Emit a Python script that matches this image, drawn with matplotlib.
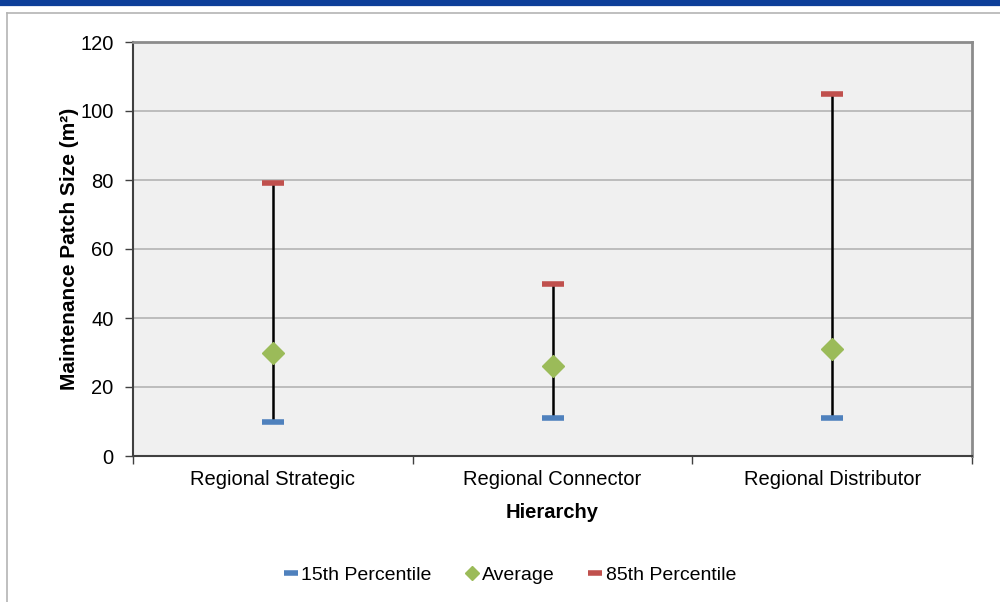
import matplotlib
matplotlib.use("Agg")
import matplotlib.pyplot as plt
from matplotlib.lines import Line2D

categories = ["Regional Strategic", "Regional Connector", "Regional Distributor"]
p15 = [10, 11, 11]
avg = [30, 26, 31]
p85 = [79, 50, 105]
yticks = [0, 20, 40, 60, 80, 100, 120]

BLUE = "#4f81bd"
GREEN = "#9bbb59"
RED = "#c0504d"
FS = 14.5

plt.rcParams["font.family"] = ["Liberation Sans", "DejaVu Sans"]

fig = plt.figure(figsize=(10, 6.02), dpi=100)
fig.patch.set_facecolor("white")

# page decoration: blue band and grey frame
fig.add_artist(Line2D([0, 1], [1 - 3 / 602, 1 - 3 / 602], color="#0d3f99", lw=4.5))
fig.add_artist(Line2D([7 / 1000, 1], [1 - 13 / 602, 1 - 13 / 602], color="#b4b4b4", lw=1.2))
fig.add_artist(Line2D([7 / 1000, 7 / 1000], [0, 1 - 13 / 602], color="#b4b4b4", lw=1.2))

ax = fig.add_axes([133 / 1000, 1 - 456 / 602, 839 / 1000, 414 / 602])
ax.set_facecolor("#f0f0f0")

x = list(range(len(categories)))
ax.vlines(x, p15, p85, color="black", lw=1.8, zorder=2)
ax.plot(x, p15, ls="none", marker="_", ms=16, mew=4, color=BLUE, zorder=3, label="15th Percentile")
ax.plot(x, avg, ls="none", marker="D", ms=11, color=GREEN, zorder=4, label="Average")
ax.plot(x, p85, ls="none", marker="_", ms=16, mew=4, color=RED, zorder=3, label="85th Percentile")

ax.set_xlim(-0.5, len(categories) - 0.5)
ax.set_ylim(0, 120)
ax.set_yticks(yticks)
ax.set_yticklabels([str(v) for v in yticks], fontsize=FS)
ax.yaxis.grid(True, color="#b3b3b3", lw=1.2)
ax.set_axisbelow(True)

ax.set_xticks([i - 0.5 for i in range(len(categories) + 1)])
ax.set_xticklabels([])
ax.set_xticks(x, minor=True)
ax.set_xticklabels(categories, minor=True, fontsize=FS)
ax.tick_params(axis="x", which="minor", length=0, pad=10)
ax.tick_params(axis="x", which="major", length=6, width=1, color="#404040")
ax.tick_params(axis="y", length=6, width=1, color="#404040", pad=8)

for side in ["left", "bottom"]:
    ax.spines[side].set_color("#404040")
    ax.spines[side].set_linewidth(1.5)
for side in ["top", "right"]:
    ax.spines[side].set_color("#8c8c8c")
    ax.spines[side].set_linewidth(2)

ax.set_ylabel("Maintenance Patch Size (m²)", fontsize=15, fontweight="bold", labelpad=1)
ax.set_xlabel("Hierarchy", fontsize=FS, fontweight="bold", labelpad=10)

handles = [
    Line2D([], [], ls="none", marker="_", ms=10, mew=4, color=BLUE),
    Line2D([], [], ls="none", marker="D", ms=7, color=GREEN),
    Line2D([], [], ls="none", marker="_", ms=10, mew=4, color=RED),
]
fig.legend(handles, ["15th Percentile", "Average", "85th Percentile"],
           loc="center", bbox_to_anchor=(0.51, 1 - 575 / 602), ncol=3, frameon=False,
           fontsize=14, handlelength=0.7, handletextpad=0.2, columnspacing=1.7)

fig.savefig("out.png", dpi=100)
